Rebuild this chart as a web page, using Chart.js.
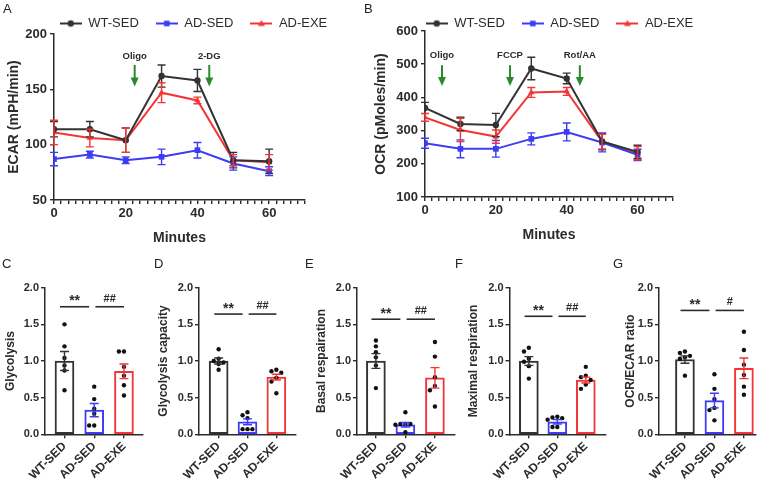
<!DOCTYPE html>
<html>
<head>
<meta charset="utf-8">
<title>ECAR / OCR panels</title>
<script src="https://cdn.jsdelivr.net/npm/chart.js"></script>
<style>
  body { margin: 0; background: #fff; font-family: "Liberation Sans", Arial, sans-serif; }
  #fig { position: relative; width: 767px; height: 484px; overflow: hidden; }
  #fig canvas { position: absolute; }
  .tag { position: absolute; font-size: 13px; line-height: 1; color: #222; }
</style>
</head>
<body>
<div id="fig">
  <canvas id="ecar" width="380" height="250" style="left:0;top:0"></canvas>
  <canvas id="ocr" width="397" height="250" style="left:370px;top:0"></canvas>
  <canvas id="p0" width="150" height="234" style="left:0;top:250px"></canvas>
  <canvas id="p1" width="150" height="234" style="left:150px;top:250px"></canvas>
  <canvas id="p2" width="160" height="234" style="left:300px;top:250px"></canvas>
  <canvas id="p3" width="160" height="234" style="left:450px;top:250px"></canvas>
  <canvas id="p4" width="167" height="234" style="left:600px;top:250px"></canvas>
  <div class="tag" style="left:3px;top:2px">A</div>
  <div class="tag" style="left:364px;top:2px">B</div>
  <div class="tag" style="left:2px;top:257px">C</div>
  <div class="tag" style="left:154px;top:257px">D</div>
  <div class="tag" style="left:305px;top:257px">E</div>
  <div class="tag" style="left:455px;top:257px">F</div>
  <div class="tag" style="left:613px;top:257px">G</div>
</div>
<script>
const minutes = [0, 10, 20, 30, 40, 50, 60];
const groups = ['WT-SED', 'AD-SED', 'AD-EXE'];

// ECAR (mPH/min): mean and SEM
const ecarWT = [114, 114, 104, 162, 158, 86, 85];
const ecarWTErr = [7, 7, 11, 10, 10, 7, 11];
const ecarSED = [87, 91, 86, 89, 95, 83, 76];
const ecarSEDErr = [6, 3, 3, 7, 7, 6, 4];
const ecarEXE = [111, 106, 104, 147, 140, 86, 84];
const ecarEXEErr = [11, 8, 11, 9, 3, 5, 7];
const ecarTicks = [50, 100, 150, 200];
const ecarInjections = ['Oligo', '2-DG'];
const ecarInjectAt = [22.5, 43.3];

// OCR (pMoles/min): mean and SEM
const ocrWT = [368, 320, 317, 487, 457, 267, 236];
const ocrWTErr = [17, 20, 35, 34, 16, 25, 20];
const ocrSED = [262, 245, 245, 275, 296, 264, 227];
const ocrSEDErr = [15, 27, 25, 18, 27, 28, 17];
const ocrEXE = [340, 302, 282, 415, 418, 267, 232];
const ocrEXEErr = [12, 35, 20, 15, 12, 22, 20];
const ocrTicks = [100, 200, 300, 400, 500, 600];
const ocrInjections = ['Oligo', 'FCCP', 'Rot/AA'];
const ocrInjectAt = [4.8, 24, 43.7];

const minuteTicks = [0, 20, 40, 60];
const barTicks = [0, 0.5, 1, 1.5, 2];

// normalised bar panels: mean, SEM, single animals
const glyMean = [1.0, 0.33, 0.86];
const glySem = [0.13, 0.09, 0.1];
const glyDots = [[1.5, 1.2, 1.04, 0.94, 0.87, 0.6], [0.65, 0.48, 0.35, 0.28, 0.12, 0.12], [1.13, 1.13, 0.92, 0.8, 0.67, 0.53]];
const glySig = ['**', '##'];

const capMean = [1.0, 0.17, 0.78];
const capSem = [0.04, 0.04, 0.04];
const capDots = [[1.16, 1.03, 1.0, 0.98, 0.96, 0.88], [0.3, 0.26, 0.22, 0.07, 0.07, 0.07], [0.88, 0.86, 0.84, 0.77, 0.72, 0.56]];
const capSig = ['**', '##'];

const basMean = [1.0, 0.13, 0.77];
const basSem = [0.1, 0.03, 0.14];
const basDots = [[1.28, 1.2, 1.12, 1.05, 0.94, 0.63], [0.3, 0.14, 0.14, 0.14, 0.13, 0.03], [1.26, 1.06, 0.78, 0.66, 0.6, 0.38]];
const basSig = ['**', '##'];

const maxMean = [1.0, 0.17, 0.74];
const maxSem = [0.06, 0.03, 0.04];
const maxDots = [[1.18, 1.13, 1.03, 0.99, 0.93, 0.76], [0.24, 0.23, 0.22, 0.2, 0.1, 0.1], [0.92, 0.8, 0.78, 0.74, 0.68, 0.62]];
const maxSig = ['**', '##'];

const ratMean = [1.02, 0.46, 0.9];
const ratSem = [0.05, 0.1, 0.14];
const ratDots = [[1.13, 1.11, 1.07, 1.05, 1.03, 0.8], [0.82, 0.62, 0.48, 0.36, 0.33, 0.19], [1.4, 1.15, 0.95, 0.81, 0.65, 0.54]];
const ratSig = ['**', '#'];

const ink = '#2b2b2b';
const colors = ['#333333', '#3c3cf5', '#f53535'];
const markers = ['circle', 'rect', 'triangle'];
const markerSize = [3.2, 4, 3.6];
const arrowGreen = '#2a8a2a';

Chart.defaults.font.family = '"Liberation Sans", Arial, sans-serif';
Chart.defaults.color = ink;
Chart.defaults.animation = false;

// error bars (mean +/- SEM) for any dataset carrying an err array
const errorBars = {
  id: 'errorBars',
  afterDatasetsDraw(chart) {
    const ctx = chart.ctx, y = chart.scales.y;
    chart.data.datasets.forEach((d, i) => {
      if (!d.err) return;
      const cap = d.type === 'bar' ? 4.5 : 4;
      chart.getDatasetMeta(i).data.forEach((el, k) => {
        const v = d.data[k].y;
        const top = y.getPixelForValue(v + d.err[k]);
        const bot = y.getPixelForValue(v - d.err[k]);
        ctx.save();
        ctx.strokeStyle = Array.isArray(d.borderColor) ? d.borderColor[k] : d.borderColor;
        ctx.lineWidth = 1.4;
        ctx.beginPath();
        ctx.moveTo(el.x, top); ctx.lineTo(el.x, bot);
        ctx.moveTo(el.x - cap, top); ctx.lineTo(el.x + cap, top);
        ctx.moveTo(el.x - cap, bot); ctx.lineTo(el.x + cap, bot);
        ctx.stroke();
        ctx.restore();
      });
    });
  }
};

// green injection arrows with names above them
const injections = {
  id: 'injections',
  afterDatasetsDraw(chart, args, o) {
    if (!o.at) return;
    const ctx = chart.ctx, x = chart.scales.x, y = chart.scales.y;
    o.at.forEach((m, i) => {
      const px = x.getPixelForValue(m);
      const yText = y.getPixelForValue(o.textAt);
      const yTop = y.getPixelForValue(o.top);
      const yTip = y.getPixelForValue(o.tip);
      ctx.save();
      ctx.fillStyle = ink;
      ctx.font = 'bold 9.5px "Liberation Sans", Arial, sans-serif';
      ctx.textAlign = 'center';
      ctx.textBaseline = 'middle';
      ctx.fillText(o.names[i], px, yText);
      ctx.strokeStyle = arrowGreen;
      ctx.fillStyle = arrowGreen;
      ctx.lineWidth = 2;
      ctx.beginPath(); ctx.moveTo(px, yTop); ctx.lineTo(px, yTip - 7); ctx.stroke();
      ctx.beginPath(); ctx.moveTo(px - 4, yTip - 9); ctx.lineTo(px + 4, yTip - 9); ctx.lineTo(px, yTip); ctx.closePath(); ctx.fill();
      ctx.restore();
    });
  }
};

// significance bars over the bar panels
const sigBars = {
  id: 'sigBars',
  afterDatasetsDraw(chart, args, o) {
    if (!o.texts) return;
    const ctx = chart.ctx, x = chart.scales.x, y = chart.scales.y;
    const spans = [[-0.15, 0.83], [1.04, 2.0]];
    const py = y.getPixelForValue(o.at);
    o.texts.forEach((t, i) => {
      const x1 = x.getPixelForValue(spans[i][0]), x2 = x.getPixelForValue(spans[i][1]);
      ctx.save();
      ctx.strokeStyle = ink; ctx.lineWidth = 1.6;
      ctx.beginPath(); ctx.moveTo(x1, py); ctx.lineTo(x2, py); ctx.stroke();
      ctx.fillStyle = ink;
      ctx.textAlign = 'center';
      ctx.textBaseline = 'alphabetic';
      const star = t.indexOf('*') >= 0;
      ctx.font = 'bold ' + (star ? 14 : 11) + 'px "Liberation Sans", Arial, sans-serif';
      ctx.fillText(t, (x1 + x2) / 2, py + (star ? -1.5 : -5));
      ctx.restore();
    });
  }
};

// fixed legend height and horizontal shift
const legendFix = {
  id: 'legendFix',
  afterInit(chart, args, o) {
    const lg = chart.legend;
    if (!lg || !o.height) return;
    const fit = lg.fit.bind(lg);
    lg.fit = function () { fit(); this.height = o.height; };
  },
  afterLayout(chart, args, o) {
    const lg = chart.legend;
    if (lg && o.dx) { lg.left += o.dx; lg.right += o.dx; }
  }
};

function legendIcon(color, style) {
  const c = document.createElement('canvas');
  c.width = 22; c.height = 10;
  const g = c.getContext('2d');
  g.strokeStyle = color; g.fillStyle = color; g.lineWidth = 2;
  g.beginPath(); g.moveTo(0, 5); g.lineTo(22, 5); g.stroke();
  g.beginPath();
  if (style === 'circle') g.arc(11, 5, 3.2, 0, Math.PI * 2);
  else if (style === 'rect') g.rect(8.2, 2.2, 5.6, 5.6);
  else { g.moveTo(11, 1.5); g.lineTo(14.5, 7.5); g.lineTo(7.5, 7.5); g.closePath(); }
  g.fill();
  return c;
}
const icons = groups.map((g, i) => legendIcon(colors[i], markers[i]));

function axisStyle() {
  return {
    offset: false,
    grid: { display: true, offset: false, drawOnChartArea: false, drawTicks: true, tickLength: 4, color: ink, lineWidth: 1.4 },
    border: { display: true, color: ink, width: 1.5 }
  };
}

function timeChart(id, o) {
  const series = [o.wt, o.sed, o.exe];
  const errs = [o.wtErr, o.sedErr, o.exeErr];
  const datasets = groups.map((g, i) => ({
    label: g,
    data: minutes.map((m, k) => ({ x: m, y: series[i][k] })),
    err: errs[i],
    borderColor: colors[i],
    backgroundColor: colors[i],
    borderWidth: 2,
    pointStyle: markers[i],
    pointRadius: markerSize[i],
    pointBorderWidth: 0,
    tension: 0
  }));
  new Chart(document.getElementById(id), {
    type: 'line',
    data: { datasets },
    options: {
      responsive: false,
      layout: { padding: { top: 0, left: 0, bottom: 0, right: o.padRight } },
      plugins: {
        tooltip: { enabled: false },
        legend: {
          display: true, position: 'top',
          labels: {
            usePointStyle: true, pointStyleWidth: 22, padding: 17, color: ink,
            font: { size: 13 },
            generateLabels: ch => ch.data.datasets.map((d, i) => ({
              text: d.label, pointStyle: icons[i], fillStyle: colors[i], strokeStyle: colors[i],
              lineWidth: 0, hidden: false, datasetIndex: i, fontColor: ink
            }))
          }
        },
        legendFix: { height: o.legendH, dx: o.legendDx },
        injections: { at: o.injectAt, names: o.injectNames, textAt: o.textAt, top: o.arrowTop, tip: o.arrowTip }
      },
      scales: {
        x: Object.assign(axisStyle(), {
          type: 'linear', min: 0, max: 70,
          afterBuildTicks: s => { s.ticks = []; for (let m = 0; m <= 70; m += 2) s.ticks.push({ value: m }); },
          afterFit: s => { s.height = o.xH; },
          ticks: {
            autoSkip: false, maxRotation: 0, padding: 2, color: ink,
            font: { size: 13, weight: 'bold' },
            callback: v => minuteTicks.indexOf(v) >= 0 ? String(v) : ''
          },
          title: { display: true, text: 'Minutes', color: ink, font: { size: 14, weight: 'bold' }, padding: { top: 0, bottom: o.xTitlePad } }
        }),
        y: Object.assign(axisStyle(), {
          min: o.yTicks[0], max: o.yTicks[o.yTicks.length - 1],
          afterBuildTicks: s => { s.ticks = o.yTicks.map(v => ({ value: v })); },
          afterFit: s => { s.width = o.yW; },
          ticks: { padding: 3, color: ink, font: { size: 13, weight: 'bold' } },
          title: { display: true, text: o.yTitle, color: ink, font: { size: 14, weight: 'bold' }, padding: { top: o.yTitlePad, bottom: 0 } }
        })
      }
    },
    plugins: [errorBars, injections, legendFix]
  });
}

timeChart('ecar', {
  wt: ecarWT, wtErr: ecarWTErr, sed: ecarSED, sedErr: ecarSEDErr, exe: ecarEXE, exeErr: ecarEXEErr,
  yTicks: ecarTicks, yTitle: 'ECAR (mPH/min)',
  injectAt: ecarInjectAt, injectNames: ecarInjections, textAt: 180, arrowTop: 172, arrowTip: 152.5,
  padRight: 75, yW: 54, xH: 50, legendH: 34, legendDx: 41, yTitlePad: 5.6, xTitlePad: 3.6
});

timeChart('ocr', {
  wt: ocrWT, wtErr: ocrWTErr, sed: ocrSED, sedErr: ocrSEDErr, exe: ocrEXE, exeErr: ocrEXEErr,
  yTicks: ocrTicks, yTitle: 'OCR (pMoles/min)',
  injectAt: ocrInjectAt, injectNames: ocrInjections, textAt: 528, arrowTop: 497, arrowTip: 434,
  padRight: 94, yW: 55, xH: 53, legendH: 31, legendDx: 38, yTitlePad: 2.6, xTitlePad: 6.6
});

// spread overlapping dots sideways, beeswarm style
function swarm(vals) {
  const placed = [];
  const cands = [0, -0.17, 0.17, -0.34, 0.34];
  return vals.map(v => {
    let off = cands.find(c => placed.every(p => Math.abs(p.x - c) > 0.15 || Math.abs(p.y - v) > 0.065));
    if (off === undefined) off = 0;
    placed.push({ x: off, y: v });
    return off;
  });
}

function barChart(id, o) {
  const dots = [];
  o.dots.forEach((vals, i) => {
    const offs = swarm(vals);
    vals.forEach((v, k) => dots.push({ x: i + offs[k], y: v }));
  });
  new Chart(document.getElementById(id), {
    type: 'bar',
    data: {
      datasets: [
        {
          type: 'bar', order: 1,
          data: o.mean.map((m, i) => ({ x: i, y: m })),
          err: o.sem,
          backgroundColor: '#ffffff', borderColor: colors, borderWidth: 2,
          borderSkipped: false, barThickness: 19
        },
        {
          type: 'scatter', order: 0,
          data: dots,
          pointRadius: 2.2, pointBorderWidth: 0, backgroundColor: '#111', borderColor: '#111'
        }
      ]
    },
    options: {
      responsive: false,
      layout: { padding: { top: 37.7, left: 0, bottom: 0, right: o.padRight } },
      plugins: {
        legend: { display: false }, tooltip: { enabled: false },
        sigBars: { texts: o.sig, at: o.sigY }
      },
      scales: {
        x: Object.assign(axisStyle(), {
          type: 'linear', min: o.xMin, max: o.xMax,
          afterBuildTicks: s => { s.ticks = groups.map((g, i) => ({ value: i })); },
          afterFit: s => { s.height = 49.7; },
          ticks: {
            autoSkip: false, minRotation: 45, maxRotation: 45, padding: 1, color: ink,
            font: { size: 12, weight: 'bold' },
            callback: v => groups[v]
          }
        }),
        y: Object.assign(axisStyle(), {
          min: 0, max: 2,
          afterBuildTicks: s => { s.ticks = barTicks.map(v => ({ value: v })); },
          afterFit: s => { s.width = o.yW; },
          ticks: { padding: 2, color: ink, font: { size: 11, weight: 'bold' }, callback: v => v.toFixed(1) },
          title: { display: true, text: o.title, color: ink, font: { size: 12, weight: 'bold' }, padding: { top: o.titlePad, bottom: 0 } }
        })
      }
    },
    plugins: [errorBars, sigBars]
  });
}

barChart('p0', { title: 'Glycolysis', mean: glyMean, sem: glySem, dots: glyDots, sig: glySig, sigY: 1.74,
  yW: 45, titlePad: 3.8, padRight: 7, xMin: -0.655, xMax: 2.64 });
barChart('p1', { title: 'Glycolysis capacity', mean: capMean, sem: capSem, dots: capDots, sig: capSig, sigY: 1.64,
  yW: 49, titlePad: 6.8, padRight: 2, xMin: -0.68, xMax: 2.68 });
barChart('p2', { title: 'Basal respairation', mean: basMean, sem: basSem, dots: basDots, sig: basSig, sigY: 1.57,
  yW: 57, titlePad: 14.8, padRight: 5, xMin: -0.64, xMax: 2.68 });
barChart('p3', { title: 'Maximal respiration', mean: maxMean, sem: maxSem, dots: maxDots, sig: maxSig, sigY: 1.61,
  yW: 59.5, titlePad: 16.8, padRight: 1, xMin: -0.68, xMax: 2.71 });
barChart('p4', { title: 'OCR/ECAR ratio', mean: ratMean, sem: ratSem, dots: ratDots, sig: ratSig, sigY: 1.69,
  yW: 59, titlePad: 23.8, padRight: 11, xMin: -0.88, xMax: 2.41 });
</script>
</body>
</html>
